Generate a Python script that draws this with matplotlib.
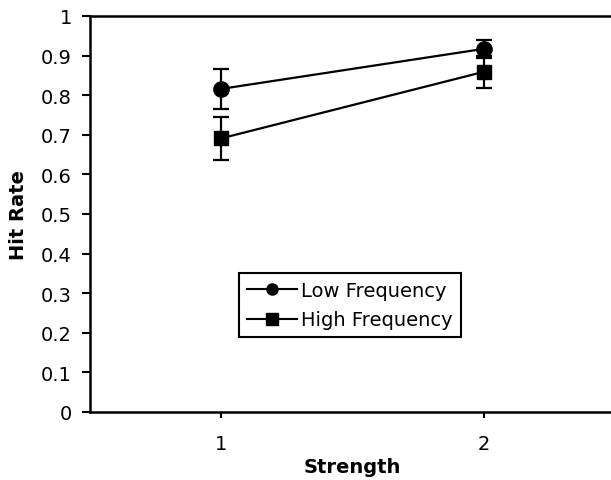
import matplotlib.pyplot as plt
from matplotlib.lines import Line2D
import numpy as np

strength = [1, 2]
low_freq = [0.816, 0.917]
low_err = [0.050, 0.023]
high_freq = [0.691, 0.859]
high_err = [0.055, 0.040]
y_ticks = np.arange(0, 1.01, 0.1)
y_tick_labels = ['0', '0.1', '0.2', '0.3', '0.4', '0.5', '0.6', '0.7', '0.8', '0.9', '1']

plt.rcParams['font.family'] = 'DejaVu Sans'

fig = plt.figure(figsize=(6.11, 4.81), dpi=100)
ax = fig.add_axes([90 / 611, 1 - 413 / 481, 525 / 611, (413 - 17) / 481])

ax.errorbar(strength, low_freq, yerr=low_err, color='black', marker='o',
            markersize=11, linewidth=1.6, elinewidth=1.6, capsize=5.5,
            capthick=1.6, zorder=3)
ax.errorbar(strength, high_freq, yerr=high_err, color='black', marker='s',
            markersize=10.5, linewidth=1.6, elinewidth=1.6, capsize=5.5,
            capthick=1.6, zorder=3)

ax.set_xlim(0.5, 2.5)
ax.set_ylim(0, 1)
ax.set_xticks(strength)
ax.set_xticklabels(['1', '2'], fontsize=14)
ax.set_yticks(y_ticks)
ax.set_yticklabels(y_tick_labels, fontsize=14)
ax.tick_params(axis='y', direction='out', length=6, width=1.5, pad=7)
ax.tick_params(axis='x', direction='out', length=4, width=1.5, pad=12)
ax.spines['right'].set_visible(False)
for side in ['left', 'bottom', 'top']:
    ax.spines[side].set_linewidth(1.8)

ax.set_xlabel('Strength', fontsize=14, fontweight='bold', labelpad=3)
ax.set_ylabel('Hit Rate', fontsize=14, fontweight='bold', labelpad=9)

handles = [Line2D([], [], color='black', marker='o', markersize=8, linewidth=1.5),
           Line2D([], [], color='black', marker='s', markersize=8, linewidth=1.5)]
leg = ax.legend(handles, ['Low Frequency', 'High Frequency'], loc='center',
                bbox_to_anchor=(0.495, 0.27), fontsize=14,
                frameon=True, fancybox=False, edgecolor='black', framealpha=1,
                handlelength=2.6, handletextpad=0.2, borderpad=0.4,
                labelspacing=0.55, borderaxespad=0)
leg.get_frame().set_linewidth(1.5)

fig.savefig('out.png', dpi=100)
